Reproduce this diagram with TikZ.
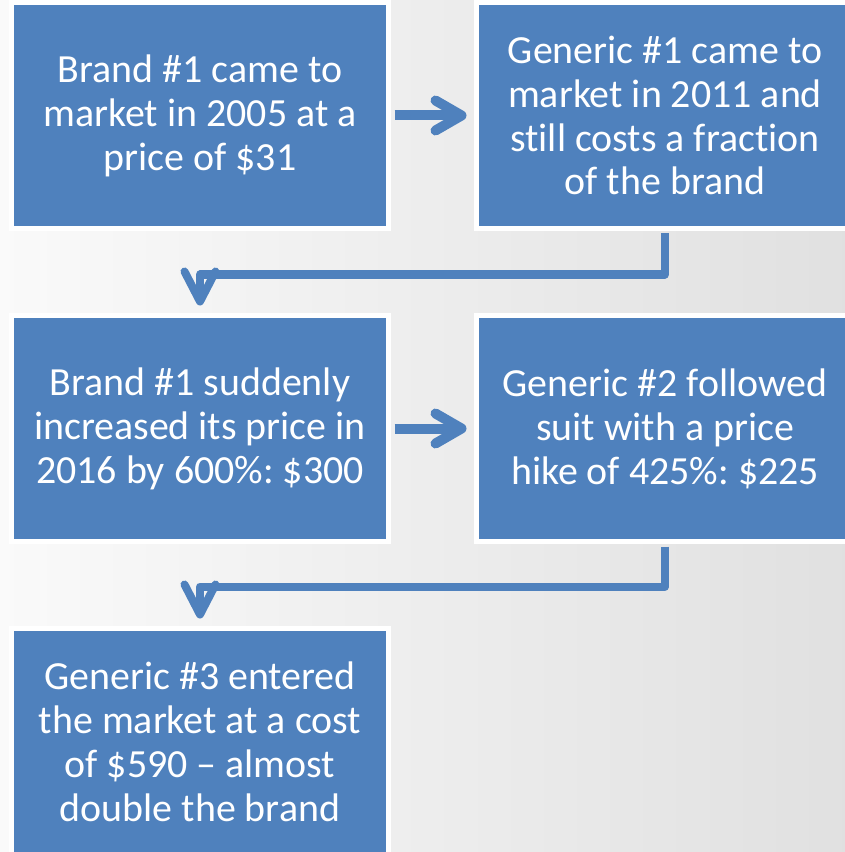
\documentclass[tikz,border=0pt]{standalone}
\usepackage{fontspec}
\setmainfont[Ligatures={NoCommon}]{Carlito}
\usetikzlibrary{arrows.meta}
\frenchspacing

\definecolor{officeblue}{HTML}{4F81BD}

\tikzstyle{box} = [draw=white, rectangle, line width=0.1cm, minimum width=7.54cm, minimum height=4.52cm, align=center]
\tikzstyle{step arrow} = [line width=0.2cm, -{Straight Barb[round,length=0.52cm,width=0.6cm]}]
\tikzstyle{turn arrow} = [line width=0.16cm, line join=round, -{Straight Barb[round,length=0.6cm,width=0.62cm]}]

\begin{document}
\begin{tikzpicture} [node distance=2cm]

\def\colB{officeblue}
\def\fillB{officeblue}
\def\textB{\fontsize{22.7}{25}\selectfont}

% page and background
\useasboundingbox (0,0) rectangle (16.9,-17.04);
\clip (0,0) rectangle (16.9,-17.04);
\shade[left color=black!2, right color=black!12]
      (0,0) rectangle (16.9,-17.04);

\node[box,fill=\fillB,text=white,font=\textB]
      at (4,-2.31)
      (b1) {Brand \#1 came to\\market in 2005 at a\\price of \$31};

\node[box,fill=\fillB,text=white,font=\textB,
      right of=b1,node distance=9.3cm]
      (b2) {Generic \#1 came to\\market in 2011 and\\still costs a fraction\\of the brand};

\node[box,fill=\fillB,text=white,font=\textB,
      below of=b1,node distance=6.26cm]
      (b3) {Brand \#1 suddenly\\increased its price in\\2016 by 600\%: \$300};

\node[box,fill=\fillB,text=white,font=\textB,
      right of=b3,node distance=9.3cm]
      (b4) {Generic \#2 followed\\suit with a price\\hike of 425\%: \$225};

\node[box,fill=\fillB,text=white,font=\textB,
      below of=b3,node distance=6.26cm]
      (b5) {Generic \#3 entered\\the market at a cost\\of \$590 -- almost\\double the brand};

\draw[step arrow,\colB,shorten <=0.07cm,shorten >=0.15cm]
     (b1.east) -- (b2.west);

\draw[step arrow,\colB,shorten <=0.07cm,shorten >=0.15cm]
     (b3.east) -- (b4.west);

\draw[turn arrow,\colB,shorten <=0.05cm,shorten >=0.15cm]
     (b2.south) -- ++(0,-0.87) -| (b3.north);

\draw[turn arrow,\colB,shorten <=0.05cm,shorten >=0.15cm]
     (b4.south) -- ++(0,-0.85) -| (b5.north);

\end{tikzpicture}
\end{document}
